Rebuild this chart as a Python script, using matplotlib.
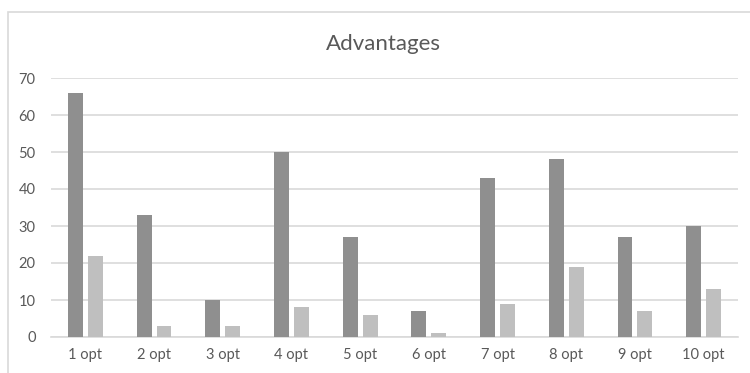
import matplotlib.pyplot as plt
import numpy as np
from matplotlib.patches import Rectangle

categories = ['1 opt', '2 opt', '3 opt', '4 opt', '5 opt',
              '6 opt', '7 opt', '8 opt', '9 opt', '10 opt']
series_a = [66, 33, 10, 50, 27, 7, 43, 48, 27, 30]
series_b = [22, 3, 3, 8, 6, 1, 9, 19, 7, 13]

plt.rcParams['font.family'] = ['Lato', 'DejaVu Sans']
text_color = '#595959'

fig = plt.figure(figsize=(7.5, 3.73), dpi=100)
fig.patch.set_facecolor('white')

# chart border (runs off the right and bottom edge)
fig.patches.append(Rectangle((8 / 750, -0.1), 1.0, 1 - 11.5 / 373 + 0.1,
                             transform=fig.transFigure, fill=False,
                             edgecolor='#d9d9d9', linewidth=1.2))

ax = fig.add_axes([51 / 750, 1 - 337 / 373, 687 / 750, 259 / 373])
x = np.arange(len(categories))
w = 0.218
ax.bar(x - 0.145, series_a, width=w, color='#8f8f8f', zorder=3)
ax.bar(x + 0.145, series_b, width=w, color='#bfbfbf', zorder=3)

ax.set_xlim(-0.5, len(categories) - 0.5)
ax.set_ylim(0, 70)
ax.set_yticks(range(0, 71, 10))
ax.set_xticks(x)
ax.set_xticklabels(categories)
ax.grid(axis='y', color='#d9d9d9', linewidth=1.2, zorder=0)
for s in ['top', 'right', 'left']:
    ax.spines[s].set_visible(False)
ax.spines['bottom'].set_color('#d9d9d9')
ax.spines['bottom'].set_linewidth(1.2)
ax.tick_params(axis='both', length=0, labelsize=10.5, colors=text_color)
ax.tick_params(axis='x', pad=8)
ax.tick_params(axis='y', pad=11)

fig.text(383.5 / 750, 1 - 44 / 373, 'Advantages',
         ha='center', va='center', fontsize=16, color=text_color)

fig.savefig('out.png', dpi=100)
